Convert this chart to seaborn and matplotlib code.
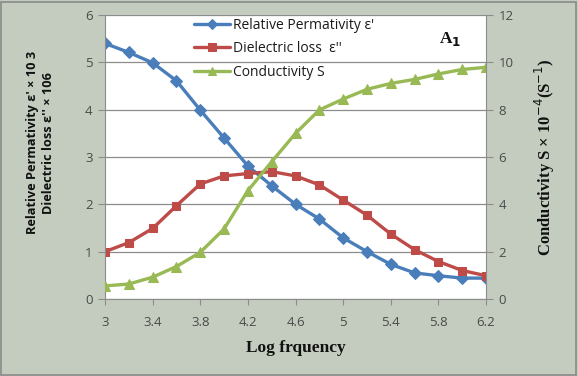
import matplotlib
matplotlib.use("Agg")
import matplotlib.pyplot as plt
import matplotlib.ticker as mticker
from matplotlib.patches import Rectangle
import seaborn as sns
import pandas as pd

log_freq = [3.0, 3.2, 3.4, 3.6, 3.8, 4.0, 4.2, 4.4, 4.6, 4.8, 5.0, 5.2, 5.4, 5.6, 5.8, 6.0, 6.2]
permittivity = [5.40, 5.21, 4.99, 4.61, 3.99, 3.40, 2.81, 2.39, 2.00, 1.69, 1.29, 1.00, 0.73, 0.55, 0.49, 0.44, 0.44]
loss = [1.00, 1.19, 1.49, 1.97, 2.43, 2.60, 2.65, 2.69, 2.60, 2.41, 2.09, 1.77, 1.37, 1.04, 0.79, 0.60, 0.49]
conductivity = [0.55, 0.63, 0.92, 1.37, 1.97, 2.96, 4.58, 5.80, 7.00, 7.99, 8.45, 8.86, 9.11, 9.28, 9.51, 9.70, 9.79]
x_ticks = [3, 3.4, 3.8, 4.2, 4.6, 5, 5.4, 5.8, 6.2]

df = pd.DataFrame({"x": log_freq, "p": permittivity, "l": loss, "c": conductivity})

sns.set_style("white")
plt.rcParams["font.family"] = ["Open Sans", "DejaVu Sans"]

BG = "#c3ccbe"
BLUE = "#4a7ebb"
RED = "#be4b48"
GREEN = "#98b954"
TICKC = "#4a4a4a"

fig = plt.figure(figsize=(5.78, 3.76), dpi=100, facecolor=BG)
fig.patches.append(Rectangle((0.002, 0.003), 0.995, 0.993, transform=fig.transFigure,
                             fill=False, edgecolor="#8a8a8a", linewidth=1.2))
ax = fig.add_axes([0.1817, 0.205, 0.841 - 0.1817, 0.960 - 0.205])
ax.set_facecolor("white")
ax2 = ax.twinx()

sns.lineplot(data=df, x="x", y="p", ax=ax, color=BLUE, marker="D", markersize=6.5,
             markeredgecolor=BLUE, linewidth=2.4, label="Relative Permativity ε'", legend=False)
sns.lineplot(data=df, x="x", y="l", ax=ax, color=RED, marker="s", markersize=6,
             markeredgecolor=RED, linewidth=2.4, label="Dielectric loss  ε''", legend=False)
sns.lineplot(data=df, x="x", y="c", ax=ax2, color=GREEN, marker="^", markersize=6.5,
             markeredgecolor=GREEN, linewidth=2.4, label="Conductivity S", legend=False)

ax.set_xlim(3, 6.2)
ax.set_ylim(0, 6)
ax2.set_ylim(0, 12)
ax.set_xticks(x_ticks)
ax.xaxis.set_major_formatter(mticker.FuncFormatter(lambda v, p: f"{v:g}"))
ax.set_yticks(range(0, 7))
ax2.set_yticks(range(0, 13, 2))
ax.yaxis.grid(True, color="#8c8c8c", linewidth=0.9)
ax.xaxis.grid(False)
ax.set_axisbelow(True)

for a in (ax, ax2):
    for s in a.spines.values():
        s.set_visible(False)
ax.spines["left"].set_visible(True)
ax.spines["left"].set_color("#8c8c8c")
ax.spines["bottom"].set_visible(True)
ax.spines["bottom"].set_color("#8c8c8c")
ax2.spines["right"].set_visible(True)
ax2.spines["right"].set_color("#8c8c8c")

ax.tick_params(axis="y", direction="out", length=5, color="#8c8c8c", labelsize=9.5,
               labelcolor=TICKC, left=True, pad=4)
ax.tick_params(axis="x", direction="out", length=4, color="#8c8c8c", labelsize=9.5,
               labelcolor=TICKC, bottom=True, pad=8)
ax2.tick_params(axis="y", direction="out", length=5, color="#8c8c8c", labelsize=9.5,
                labelcolor=TICKC, right=True, pad=4)

ax.set_xlabel("Log frquency", family="Liberation Serif", fontweight="bold", fontsize=12.5,
              color="#111111", labelpad=8)
ax.set_ylabel("Relative Permativity ε' × 10 3\nDielectric loss ε'' × 106", fontweight="bold",
              fontsize=9.2, color="#111111", linespacing=1.35)
ax.yaxis.set_label_coords(-0.13, 0.55)
ax2.set_ylabel("Conductivity S × 10$^{-4}$(S$^{-1}$)", family="Liberation Serif",
               fontweight="bold", fontsize=12, color="#111111", labelpad=14)

ax.text(0.905, 0.915, "A$_\\mathbf{1}$", transform=ax.transAxes, family="Liberation Serif",
        fontweight="bold", fontsize=12.5, color="#111111", ha="center", va="center")

h1, l1 = ax.get_legend_handles_labels()
h2, l2 = ax2.get_legend_handles_labels()
ax2.legend(h1 + h2, l1 + l2, loc="upper left", bbox_to_anchor=(0.2, 1.035), frameon=False,
           fontsize=10, handlelength=2.6, handletextpad=0.2, labelspacing=0.62,
           labelcolor="#1a1a1a", markerscale=0.85)

fig.savefig("out.png", dpi=100, facecolor=BG)
